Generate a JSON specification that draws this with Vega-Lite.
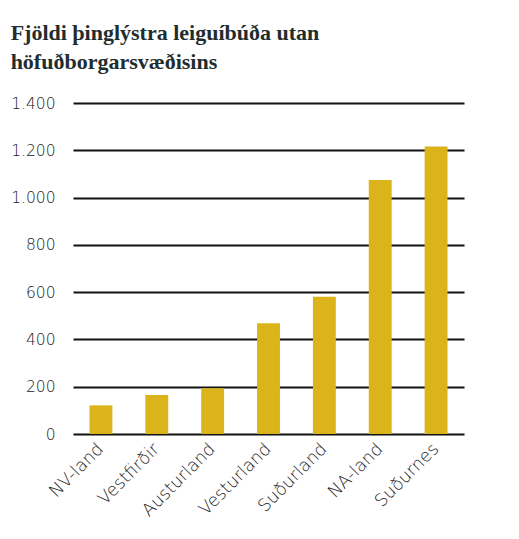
{
  "$schema": "https://vega.github.io/schema/vega-lite/v6.json",
  "title": {
    "text": ["Fjöldi þinglýstra leiguíbúða utan", "höfuðborgarsvæðisins"],
    "font": "Liberation Serif",
    "fontSize": 22,
    "fontWeight": "bold",
    "color": "#1f2d2e",
    "lineHeight": 29,
    "anchor": "start",
    "frame": "bounds",
    "offset": 22
  },
  "width": 391,
  "height": 331,
  "padding": {"left": 10, "top": 22, "right": 5, "bottom": 5},
  "data": {
    "values": [
      {"Svæði": "NV-land", "Fjöldi": 121},
      {"Svæði": "Vestfirðir", "Fjöldi": 165},
      {"Svæði": "Austurland", "Fjöldi": 194},
      {"Svæði": "Vesturland", "Fjöldi": 468},
      {"Svæði": "Suðurland", "Fjöldi": 580},
      {"Svæði": "NA-land", "Fjöldi": 1074},
      {"Svæði": "Suðurnes", "Fjöldi": 1216}
    ]
  },
  "mark": {"type": "bar", "color": "#dbb31b"},
  "encoding": {
    "x": {
      "field": "Svæði",
      "type": "nominal",
      "sort": null,
      "title": null,
      "scale": {"paddingInner": 0.59, "paddingOuter": 0.295},
      "axis": {
        "labelAngle": -45,
        "labelAlign": "right",
        "labelBaseline": "middle",
        "labelPadding": 12,
        "labelFontSize": 17.5,
        "ticks": false,
        "domain": false,
        "grid": false
      }
    },
    "y": {
      "field": "Fjöldi",
      "type": "quantitative",
      "title": null,
      "scale": {"domain": [0, 1400]},
      "axis": {
        "values": [0, 200, 400, 600, 800, 1000, 1200, 1400],
        "labelExpr": "replace(format(datum.value, ','), ',', '.')",
        "ticks": false,
        "domain": false,
        "labelPadding": 18,
        "gridColor": "#111111",
        "gridWidth": 2,
        "gridOpacity": 1
      }
    }
  },
  "config": {
    "view": {"stroke": null},
    "axis": {
      "labelFont": "DejaVu Sans",
      "labelFontSize": 15.5,
      "labelFontWeight": 300,
      "labelColor": "#222222"
    }
  }
}
